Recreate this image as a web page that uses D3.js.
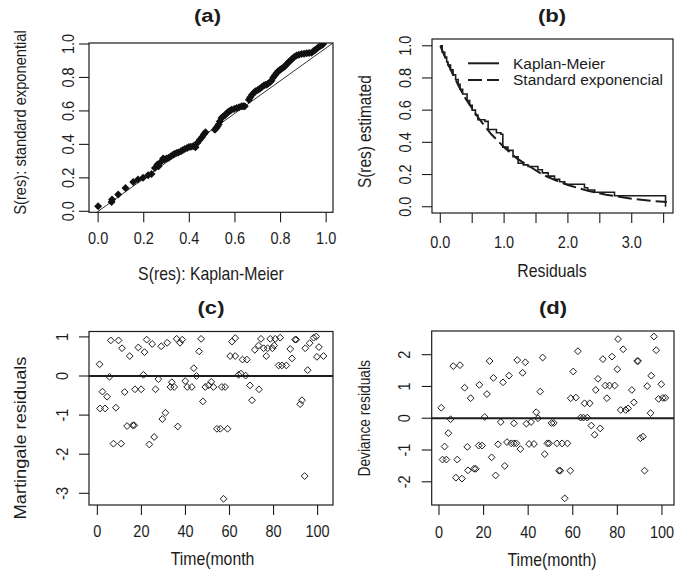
<!DOCTYPE html>
<html>
<head>
<meta charset="utf-8">
<script src="https://cdn.jsdelivr.net/npm/d3@7"></script>
<style>
  body { margin: 0; background: #fff; }
  svg { display: block; font-family: "Liberation Sans", Arial, sans-serif; }
</style>
</head>
<body>
<div id="viz"></div>
<script>
// ---- (a) S(res): Kaplan-Meier vs S(res): standard exponential ----
var aKM  = [0, 0.059, 0.061, 0.088, 0.12, 0.154, 0.175, 0.197, 0.219, 0.234, 0.249, 0.26, 0.265, 0.275, 0.285,
            0.292, 0.3, 0.31, 0.319, 0.329, 0.335, 0.344, 0.352, 0.363, 0.37, 0.38, 0.39, 0.398, 0.407, 0.417,
            0.427, 0.436, 0.446, 0.456, 0.464, 0.471, 0.512, 0.518, 0.524, 0.529, 0.534, 0.541, 0.548, 0.556,
            0.563, 0.57, 0.577, 0.585, 0.596, 0.607, 0.618, 0.629, 0.636, 0.643, 0.661, 0.667, 0.675, 0.684,
            0.69, 0.7, 0.709, 0.718, 0.728, 0.736, 0.743, 0.752, 0.76, 0.768, 0.775, 0.782, 0.789, 0.797,
            0.804, 0.812, 0.819, 0.828, 0.836, 0.844, 0.851, 0.86, 0.87, 0.88, 0.892, 0.903, 0.914, 0.925,
            0.936, 0.945, 0.953, 0.962, 0.972, 0.98, 0.987];
var aExp = [0.03, 0.056, 0.07, 0.10, 0.14, 0.175, 0.19, 0.2, 0.215, 0.223, 0.259, 0.279, 0.27, 0.295, 0.315,
            0.31, 0.315, 0.32, 0.329, 0.338, 0.342, 0.348, 0.352, 0.359, 0.365, 0.372, 0.378, 0.384, 0.386, 0.389,
            0.383, 0.41, 0.428, 0.444, 0.46, 0.472, 0.488, 0.498, 0.508, 0.52, 0.538, 0.558, 0.566, 0.574,
            0.585, 0.593, 0.6, 0.607, 0.612, 0.617, 0.622, 0.628, 0.628, 0.628, 0.667, 0.682, 0.697, 0.71,
            0.717, 0.725, 0.733, 0.743, 0.753, 0.757, 0.761, 0.77, 0.78, 0.8, 0.813, 0.825, 0.837, 0.845,
            0.852, 0.86, 0.867, 0.88, 0.892, 0.902, 0.912, 0.922, 0.932, 0.936, 0.94, 0.942, 0.944, 0.946,
            0.948, 0.958, 0.966, 0.976, 0.986, 0.993, 1.0];
var aRefLine = [[-0.01, -0.01], [1.03, 1.006]];
var aTicks = [0, 0.2, 0.4, 0.6, 0.8, 1.0];
var aTickLabels = ["0.0", "0.2", "0.4", "0.6", "0.8", "1.0"];

// ---- (b) survival of residuals ----
var kmTime = [0, 0.03, 0.07, 0.10, 0.12, 0.16, 0.2, 0.24, 0.28, 0.31, 0.35, 0.42, 0.46, 0.5, 0.55, 0.59,
              0.7, 0.75, 0.88, 0.95, 0.98, 1.06, 1.14, 1.22, 1.3, 1.375, 1.53, 1.6, 1.69, 1.79, 1.87, 1.95,
              2.26, 2.31, 2.42, 2.73, 3.53];
var kmSurv = [1.0, 0.96, 0.93, 0.90, 0.88, 0.85, 0.82, 0.79, 0.76, 0.73, 0.70, 0.66, 0.63, 0.60, 0.57, 0.54,
              0.53, 0.48, 0.46, 0.45, 0.37, 0.35, 0.31, 0.27, 0.26, 0.25, 0.23, 0.21, 0.19, 0.17, 0.155, 0.14,
              0.118, 0.104, 0.09, 0.068, 0.0];
var expTime = [0, 0.1, 0.2, 0.3, 0.4, 0.5, 0.6, 0.7, 0.8, 0.9, 1.0, 1.2, 1.4, 1.6, 1.8, 2.0, 2.3, 2.6, 3.0, 3.3, 3.55];
var expSurv = [1.0, 0.905, 0.82, 0.74, 0.67, 0.61, 0.55, 0.50, 0.45, 0.41, 0.37, 0.30, 0.25, 0.20, 0.165,
               0.135, 0.10, 0.075, 0.05, 0.037, 0.029];
var bXTicks = [0, 0.5, 1, 1.5, 2, 2.5, 3, 3.5];
var bXTickLabels = ["0.0", "", "1.0", "", "2.0", "", "3.0", ""];
var bYTicks = [0, 0.2, 0.4, 0.6, 0.8, 1.0];
var bYTickLabels = ["0.0", "0.2", "0.4", "0.6", "0.8", "1.0"];
var bLegend = ["Kaplan-Meier", "Standard exponencial"];

// ---- (c) martingale residuals ----
var cTime = [1, 6.1, 9.6, 11.2, 14.7, 18.6, 21.4, 22.4, 24.9, 29, 31.7, 36, 37.5, 38.5, 47.1, 46.2, 43.8, 45,
             20.9, 5.5, 2.3, 4.4, 1.2, 3.5, 8.4, 12.4, 17.1, 19.9, 26.4, 27.7, 13.5, 16.1, 16.7, 7.3, 10.8,
             23.6, 25.8, 29.5, 30.9, 36.5, 33.8, 33.2, 34.9, 39.9, 40.8, 42.9, 47.9, 49, 50.5, 51.7, 52.7,
             54.3, 55.8, 59.1, 56.5, 58, 57.3, 61.1, 62.6, 60.3, 62.6, 65.9, 67.9, 64.1, 65.2, 67.3, 69.3,
             73.4, 70.2, 74.3, 73.2, 75.5, 77.3, 79.5, 71.5, 78.5, 80.8, 83, 76.7, 80.3, 82.3, 83.8, 85.8,
             88.4, 87.6, 89.8, 90.3, 94.4, 96.4, 98.2, 99.4, 100.6, 99.7, 102.7, 95.5, 92.1, 92.9, 94.1];
var cMart = [0.30, 0.91, 0.91, 0.71, 0.51, 0.73, 0.61, 0.93, 0.82, 0.76, 0.85, 0.95, 0.85, 0.93, 0.95, 0.63,
             0.20, 0.0, 0.03, -0.02, -0.40, -0.53, -0.83, -0.83, -0.81, -0.41, -0.34, -0.34, -0.34, -0.08,
             -1.28, -1.26, -1.26, -1.73, -1.73, -1.75, -1.56, -1.10, -0.94, -1.29, -0.16, -0.28, -0.28,
             -0.13, -0.28, -0.28, -0.65, -0.28, -0.24, -0.15, -0.28, -1.35, -1.35, -1.35, -0.28, -0.28,
             -3.14, 0.88, 0.97, 0.51, 0.51, 0.42, 0.42, 0.03, 0.06, 0.01, -0.24, -0.34, -0.62, 0.95, 0.78,
             0.71, 0.71, 0.71, 0.67, 0.95, 0.95, 0.98, 0.51, 0.78, 0.27, 0.27, 0.27, 0.45, 0.69, 0.93, 0.93,
             0.71, 0.84, 0.98, 1.01, 0.74, 0.49, 0.51, 0.15, -0.72, -0.62, -2.56];
var cYTicks = [-3, -2, -1, 0, 1];
var cYTickLabels = ["-3", "-2", "-1", "0", "1"];

// ---- (d) deviance residuals ----
var dTime = [1, 5.2, 4.2, 2.5, 1.6, 3.3, 8.2, 6.4, 9.4, 11.5, 14.2, 7.6, 10.3, 12.7, 13, 15.7, 16.5, 17.8,
             19.3, 18.1, 20.5, 21.5, 22.7, 24.4, 23.6, 25.4, 26.5, 27.7, 28.7, 29.5, 30.5, 32.4, 33.6, 34.7,
             31.4, 33.6, 35.1, 36.5, 37.5, 38.7, 39.2, 40.4, 42.6, 41.3, 43.6, 44.4, 45.4, 46.5, 47.4, 48.6,
             49.4, 50.5, 51.5, 52.9, 55.2, 57.6, 53.8, 54.4, 58.9, 56.4, 60.2, 59.1, 61.4, 62.3, 63.5, 64.8,
             66.5, 65.3, 67.6, 68.3, 72.3, 69.8, 70.3, 71.3, 73.5, 74.6, 76.5, 78.8, 75.3, 77.6, 80.3, 80,
             82.6, 81.5, 83.7, 84.8, 86.5, 87.4, 88.9, 89.3, 90.3, 91.5, 92.2, 93.4, 94.9, 95.2, 96.4, 97.4,
             99.7, 98.5, 100.4, 101.5];
var dDev  = [0.33, -0.03, -0.47, -0.89, -1.30, -1.30, -1.30, 1.64, 1.67, 0.96, 0.63, -1.87, -1.90, -0.90,
             -1.64, -1.59, -1.59, -0.86, -0.86, 1.05, 0.04, 0.76, 1.80, 1.27, -1.23, -1.80, -0.82, -0.12,
             1.13, -1.50, -0.75, -0.79, -0.79, -0.79, 1.34, -0.16, 1.83, -0.97, 1.43, 1.76, -0.17, -0.81,
             -0.81, -0.12, 0.19, 0.0, 0.84, 1.91, -1.13, -0.79, -0.79, -0.15, -0.15, -0.79, -0.79, -0.79,
             -1.65, -1.65, -1.65, -2.52, 1.47, 0.63, 0.65, 2.11, 0.02, 0.02, 0.02, 0.47, 0.47, -0.23, -0.32,
             -0.52, 0.89, 1.24, 1.86, 1.03, 1.03, 1.03, 0.63, 1.94, 2.49, 1.54, 2.17, 0.26, 0.26, 0.31, 0.89,
             0.50, 1.80, 1.80, -0.63, -0.58, -1.65, 1.01, 0.16, 1.34, 2.57, 2.14, 1.07, 0.61, 0.64, 0.64];
var dYTicks = [-2, -1, 0, 1, 2];
var dYTickLabels = ["-2", "-1", "0", "1", "2"];

var monthTicks = [0, 20, 40, 60, 80, 100];
var monthTickLabels = ["0", "20", "40", "60", "80", "100"];

var INK = "#1c1c1c";

var svg = d3.select("#viz").append("svg")
    .attr("width", 675)
    .attr("height", 576);

// Diamond shape (a square turned 45 degrees) like R's pch 5 / pch 18.
function diamond(r) {
  return "M0," + (-r) + "L" + r + ",0L0," + r + "L" + (-r) + ",0Z";
}

// Horizontal text; sx stretches along the line, sy makes glyphs taller.
function hText(x, y, str, size, sx, sy, weight) {
  return svg.append("text")
      .attr("transform", "translate(" + x + "," + y + ") scale(" + sx + "," + sy + ")")
      .attr("text-anchor", "middle")
      .attr("font-size", size)
      .attr("font-weight", weight || "normal")
      .attr("fill", INK)
      .text(str);
}

// Text turned to read upward.
function vText(x, y, str, size, sx, sy) {
  return svg.append("text")
      .attr("transform", "translate(" + x + "," + y + ") rotate(-90) scale(" + sx + "," + sy + ")")
      .attr("text-anchor", "middle")
      .attr("font-size", size)
      .attr("fill", INK)
      .text(str);
}

// One R-like panel: box, ticks, tick labels, titles. Returns the scales.
function panel(o) {
  var x = d3.scaleLinear().domain(o.xDomain).range([o.left, o.right]);
  var y = d3.scaleLinear().domain(o.yDomain).range([o.bottom, o.top]);
  var g = svg.append("g");

  o.xTicks.forEach(function (t, i) {
    g.append("line")
      .attr("x1", x(t)).attr("x2", x(t))
      .attr("y1", o.bottom).attr("y2", o.bottom + 10)
      .attr("stroke", INK).attr("stroke-width", 1.1);
    if (o.xLabels[i]) hText(x(t), o.xLabY, o.xLabels[i], 14.5, 1, 1.2);
  });
  o.yTicks.forEach(function (t, i) {
    g.append("line")
      .attr("x1", o.left - 10).attr("x2", o.left)
      .attr("y1", y(t)).attr("y2", y(t))
      .attr("stroke", INK).attr("stroke-width", 1.1);
    if (o.yLabels[i]) vText(o.yLabX, y(t), o.yLabels[i], 14.5, 1, 1.2);
  });

  g.append("rect")
    .attr("x", o.left).attr("y", o.top)
    .attr("width", o.right - o.left).attr("height", o.bottom - o.top)
    .attr("fill", "none").attr("stroke", INK).attr("stroke-width", 1.2);

  var clipId = "clip" + o.name;
  svg.append("clipPath").attr("id", clipId).append("rect")
    .attr("x", o.left).attr("y", o.top)
    .attr("width", o.right - o.left).attr("height", o.bottom - o.top);
  var plot = svg.append("g").attr("clip-path", "url(#" + clipId + ")");

  hText(o.titleX, o.titleY, o.title, 17, 1.3, 1.05, "bold");
  hText(o.xTitleX, o.xTitleY, o.xTitle, 15.8, 1, 1.16);
  vText(o.yTitleX, o.yTitleY, o.yTitle, o.yTitleSize, o.yTitleStretch || 1, 1.15);

  return { x: x, y: y, plot: plot };
}

// ---------------- (a) ----------------
var pa = panel({
  name: "a", left: 89, right: 333, top: 43, bottom: 212.3,
  xDomain: [-0.04, 1.03], yDomain: [-0.006, 1.006],
  xTicks: aTicks, xLabels: aTickLabels, yTicks: aTicks, yLabels: aTickLabels,
  xLabY: 243.5, yLabX: 74,
  title: "(a)", titleX: 207.5, titleY: 22,
  xTitle: "S(res): Kaplan-Meier", xTitleX: 211, xTitleY: 280,
  yTitle: "S(res): standard exponential", yTitleX: 25.5, yTitleY: 122.5, yTitleSize: 14.7
});
pa.plot.append("path")
  .attr("d", d3.line().x(function (d) { return pa.x(d[0]); }).y(function (d) { return pa.y(d[1]); })(aRefLine))
  .attr("stroke", INK).attr("stroke-width", 0.9).attr("fill", "none");
pa.plot.selectAll("path.pt").data(aKM).enter().append("path")
  .attr("class", "pt")
  .attr("transform", function (d, i) { return "translate(" + pa.x(d) + "," + pa.y(aExp[i]) + ")"; })
  .attr("d", diamond(4))
  .attr("fill", "#111");

// ---------------- (b) ----------------
var pb = panel({
  name: "b", left: 432, right: 673, top: 39, bottom: 213,
  xDomain: [-0.13, 3.647], yDomain: [-0.039, 1.042],
  xTicks: bXTicks, xLabels: bXTickLabels, yTicks: bYTicks, yLabels: bYTickLabels,
  xLabY: 248, yLabX: 411,
  title: "(b)", titleX: 552, titleY: 22,
  xTitle: "Residuals", xTitleX: 552, xTitleY: 277,
  yTitle: "S(res) estimated", yTitleX: 370.5, yTitleY: 131.7, yTitleSize: 15.4
});
var expLine = d3.line()
  .x(function (d, i) { return pb.x(expTime[i]); })
  .y(function (d) { return pb.y(d); });
pb.plot.append("path")
  .attr("d", expLine(expSurv))
  .attr("stroke", INK).attr("stroke-width", 2).attr("stroke-dasharray", "14,5").attr("fill", "none");
var kmLine = d3.line()
  .curve(d3.curveStepAfter)
  .x(function (d, i) { return pb.x(kmTime[i]); })
  .y(function (d) { return pb.y(d); });
pb.plot.append("path")
  .attr("d", kmLine(kmSurv))
  .attr("stroke", INK).attr("stroke-width", 1.6).attr("fill", "none");

// legend
var leg = svg.append("g");
bLegend.forEach(function (name, i) {
  var ly = 63.3 + i * 16.7;
  leg.append("line")
    .attr("x1", 468).attr("x2", 499).attr("y1", ly).attr("y2", ly)
    .attr("stroke", INK).attr("stroke-width", 2)
    .attr("stroke-dasharray", i === 1 ? "14,5" : null);
  leg.append("text")
    .attr("x", 513).attr("y", ly + 5.2)
    .attr("font-size", 15.5).attr("fill", INK)
    .text(name);
});

// ---------------- (c) ----------------
var pc = panel({
  name: "c", left: 89, right: 333, top: 331.5, bottom: 505,
  xDomain: [-3.8, 107], yDomain: [-3.299, 1.138],
  xTicks: monthTicks, xLabels: monthTickLabels, yTicks: cYTicks, yLabels: cYTickLabels,
  xLabY: 536.5, yLabX: 68,
  title: "(c)", titleX: 211, titleY: 313.5,
  xTitle: "Time(month", xTitleX: 212.5, xTitleY: 565,
  yTitle: "Martingale residuals", yTitleX: 26, yTitleY: 438, yTitleSize: 14, yTitleStretch: 1.3
});
pc.plot.append("line")
  .attr("x1", pc.x.range()[0]).attr("x2", pc.x.range()[1])
  .attr("y1", pc.y(0)).attr("y2", pc.y(0))
  .attr("stroke", INK).attr("stroke-width", 2.2);
pc.plot.selectAll("path.pt").data(cTime).enter().append("path")
  .attr("class", "pt")
  .attr("transform", function (d, i) { return "translate(" + pc.x(d) + "," + pc.y(cMart[i]) + ")"; })
  .attr("d", diamond(3.4))
  .attr("fill", "none").attr("stroke", INK).attr("stroke-width", 1);

// ---------------- (d) ----------------
var pd = panel({
  name: "d", left: 431.7, right: 674, top: 331, bottom: 505,
  xDomain: [-3.27, 105.4], yDomain: [-2.73, 2.745],
  xTicks: monthTicks, xLabels: monthTickLabels, yTicks: dYTicks, yLabels: dYTickLabels,
  xLabY: 538, yLabX: 410,
  title: "(d)", titleX: 553, titleY: 313.5,
  xTitle: "Time(month)", xTitleX: 552, xTitleY: 566,
  yTitle: "Deviance residuals", yTitleX: 370, yTitleY: 418.3, yTitleSize: 13.8
});
pd.plot.append("line")
  .attr("x1", pd.x.range()[0]).attr("x2", pd.x.range()[1])
  .attr("y1", pd.y(0)).attr("y2", pd.y(0))
  .attr("stroke", INK).attr("stroke-width", 2.2);
pd.plot.selectAll("path.pt").data(dTime).enter().append("path")
  .attr("class", "pt")
  .attr("transform", function (d, i) { return "translate(" + pd.x(d) + "," + pd.y(dDev[i]) + ")"; })
  .attr("d", diamond(3.4))
  .attr("fill", "none").attr("stroke", INK).attr("stroke-width", 1);
</script>
</body>
</html>
